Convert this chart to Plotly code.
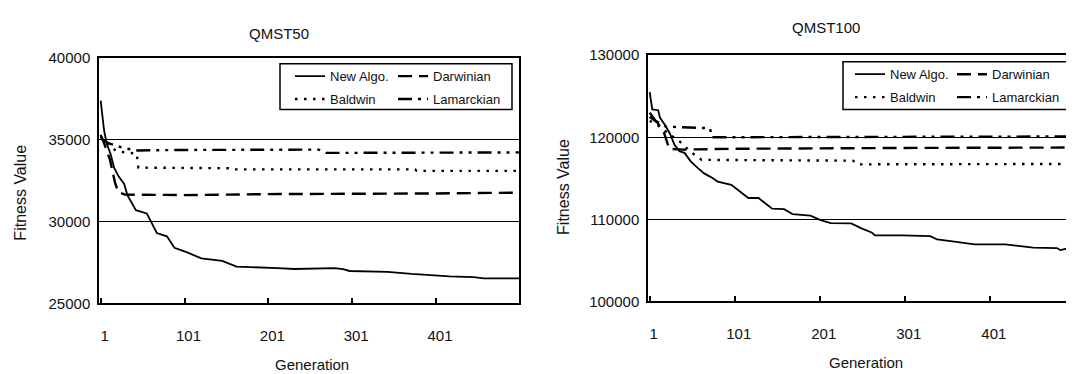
import plotly.graph_objects as go

W, H = 1074, 374

# ---------------- data ----------------
# QMST50
gen_new50 = [1, 3, 5, 8, 13, 17, 22, 29, 33, 43, 56, 60, 68, 80, 89, 105, 121, 146, 163, 212, 232, 280, 290, 298, 343, 372, 417, 446, 458, 500]
fit_new50 = [37400, 36300, 35600, 34800, 34100, 33300, 32800, 32300, 31600, 30700, 30500, 30100, 29300, 29100, 28400, 28100, 27750, 27600, 27250, 27150, 27100, 27150, 27100, 26980, 26930, 26800, 26650, 26600, 26530, 26530]
gen_dar50 = [1, 5, 12, 18, 22, 30, 100, 200, 400, 500]
fit_dar50 = [35300, 34800, 33800, 32400, 31800, 31650, 31620, 31680, 31720, 31770]
gen_bal50 = [1, 5, 10, 20, 44, 46, 158, 160, 376, 378, 500]
fit_bal50 = [35200, 35000, 34700, 34300, 34150, 33300, 33260, 33190, 33190, 33100, 33100]
gen_lam50 = [1, 10, 28, 45, 100, 261, 270, 500]
fit_lam50 = [35100, 34800, 34500, 34350, 34380, 34400, 34200, 34230]

# QMST100
gen_new100 = [1, 4, 11, 13, 19, 25, 30, 36, 42, 49, 57, 65, 73, 81, 97, 105, 113, 117, 129, 137, 145, 159, 169, 190, 202, 214, 238, 250, 262, 266, 298, 331, 339, 355, 383, 419, 444, 452, 480, 484, 492, 500]
fit_new100 = [125500, 123400, 123300, 122400, 121500, 120400, 119100, 118300, 118100, 117100, 116300, 115600, 115150, 114600, 114200, 113600, 113000, 112600, 112600, 112000, 111300, 111250, 110650, 110450, 109900, 109550, 109500, 108900, 108400, 108050, 108050, 107950, 107550, 107350, 106950, 106950, 106650, 106550, 106500, 106250, 106450, 106450]
gen_dar100 = [1, 10, 18, 24, 40, 100, 300, 500]
fit_dar100 = [122500, 121800, 120500, 118600, 118500, 118600, 118700, 118750]
gen_bal100 = [1, 10, 25, 40, 48, 62, 240, 245, 500]
fit_bal100 = [122000, 121500, 120300, 119200, 118300, 117250, 117150, 116700, 116750]
gen_lam100 = [1, 8, 20, 72, 74, 300, 500]
fit_lam100 = [123000, 122000, 121300, 121100, 120000, 120050, 120100]

series_names = ["New Algo.", "Darwinian", "Baldwin", "Lamarckian"]
xtick_vals = [1, 101, 201, 301, 401]
xtick_text = ["1", "101", "201", "301", "401"]
ytick50 = [25000, 30000, 35000, 40000]
ytick50_text = ["25000", "30000", "35000", "40000"]
ytick100 = [100000, 110000, 120000, 130000]
ytick100_text = ["100000", "110000", "120000", "130000"]

# ---------------- styles ----------------
FONT = "Liberation Sans, Arial, Helvetica, sans-serif"
styles = [
    dict(color="black", width=1.8, dash="solid"),
    dict(color="black", width=2.4, dash="14px,7px"),
    dict(color="black", width=2.4, dash="2.5px,6.5px"),
    dict(color="black", width=2.4, dash="14px,6px,3px,6px,3px,6px"),
]

def px(x):
    return x / W

def py(y):
    return 1 - y / H

fig = go.Figure()

left_sets = [(gen_new50, fit_new50), (gen_dar50, fit_dar50), (gen_bal50, fit_bal50), (gen_lam50, fit_lam50)]
right_sets = [(gen_new100, fit_new100), (gen_dar100, fit_dar100), (gen_bal100, fit_bal100), (gen_lam100, fit_lam100)]

for i, (g, f) in enumerate(left_sets):
    fig.add_trace(go.Scatter(x=g, y=f, mode="lines", name=series_names[i], line=styles[i],
                             xaxis="x", yaxis="y", legend="legend" if i == 0 else f"legend{i+1}"))
for i, (g, f) in enumerate(right_sets):
    fig.add_trace(go.Scatter(x=g, y=f, mode="lines", name=series_names[i], line=styles[i],
                             xaxis="x2", yaxis="y2", legend=f"legend{i+5}"))

# plot areas (pixels)
L1 = (91, 511, 43, 300)
L2 = (640, 1066, 40, 298)

axis_common = dict(showline=True, linecolor="black", linewidth=1.5, mirror=True,
                   tickfont=dict(family=FONT, size=15, color="#111"), zeroline=False)

fig.update_layout(
    width=W, height=H, margin=dict(l=0, r=0, t=0, b=0),
    paper_bgcolor="white", plot_bgcolor="white",
    xaxis=dict(domain=[px(L1[0]), px(L1[1])], range=[-1, 500], anchor="y",
               tickvals=xtick_vals, ticktext=xtick_text, ticks="inside", ticklen=6,
               tickwidth=1.5, tickcolor="black", showgrid=False, ticklabelstandoff=18,
               ticklabelshift=4, **axis_common),
    yaxis=dict(domain=[py(L1[3]), py(L1[2])], range=[25000, 40000], anchor="x",
               tickvals=ytick50, ticktext=ytick50_text, ticks="", showgrid=True,
               gridcolor="black", gridwidth=1, ticklabelstandoff=4, **axis_common),
    xaxis2=dict(domain=[px(L2[0]), px(L2[1])], range=[-1, 500], anchor="y2",
                tickvals=xtick_vals, ticktext=xtick_text, ticks="inside", ticklen=6,
                tickwidth=1.5, tickcolor="black", showgrid=False, ticklabelstandoff=18,
                ticklabelshift=4, **axis_common),
    yaxis2=dict(domain=[py(L2[3]), py(L2[2])], range=[100000, 130000], anchor="x2",
                tickvals=ytick100, ticktext=ytick100_text, ticks="", showgrid=True,
                gridcolor="black", gridwidth=1, ticklabelstandoff=4, **axis_common),
    showlegend=True,
)

# legends: one item each, arranged in 2x2 grids
leg_font = dict(family=FONT, size=13, color="#111")
leg_pos = {
    "legend": (287, 62), "legend2": (390, 62), "legend3": (287, 86), "legend4": (390, 86),
    "legend5": (847, 60), "legend6": (949, 60), "legend7": (847, 84), "legend8": (949, 84),
}
for key, (lx, ly) in leg_pos.items():
    fig.update_layout({key: dict(x=px(lx - 5), y=py(ly), xanchor="left", yanchor="middle",
                                 bgcolor="rgba(0,0,0,0)", borderwidth=0, font=leg_font,
                                 itemwidth=30, orientation="v")})

# legend frames
for (x0, x1, y0, y1) in [(272, 504, 49, 97), (835, 1062, 47, 97)]:
    fig.add_shape(type="rect", xref="paper", yref="paper", x0=px(x0), x1=px(x1),
                  y0=py(y1), y1=py(y0), line=dict(color="black", width=1.5), fillcolor="rgba(0,0,0,0)")

# titles
def ann(text, x, y, size=15, angle=0):
    fig.add_annotation(text=text, x=px(x), y=py(y), xref="paper", yref="paper",
                       showarrow=False, textangle=angle, xanchor="center", yanchor="middle",
                       font=dict(family=FONT, size=size, color="#111"))

ann("QMST50", 271, 17)
ann("QMST100", 818, 11)
ann("Generation", 304, 364)
ann("Generation", 858, 362)
ann("Fitness Value", 13, 184, size=16, angle=-90)
ann("Fitness Value", 556, 178, size=16, angle=-90)

fig.write_html("out.html")
